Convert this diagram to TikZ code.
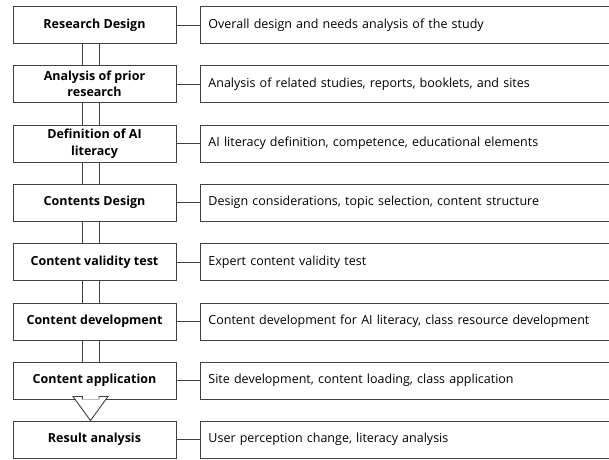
\documentclass[tikz,border=0pt]{standalone}
\usepackage{fontspec}
\setmainfont{Open Sans}
\begin{document}
\begin{tikzpicture}[x=1pt,y=-1pt,
  linecol/.style={draw=black!75, line width=0.9pt},
  stepbox/.style={linecol, minimum width=163pt, minimum height=37pt, inner sep=0pt,
     align=center, font=\fontsize{12.5}{16.5}\selectfont\bfseries},
  descbox/.style={linecol, anchor=west, minimum width=430pt, minimum height=37pt, inner sep=0pt,
     text width=430pt, align=left, font=\fontsize{12.5}{14.5}\selectfont},
  conn/.style={linecol}
]
\useasboundingbox (0,0) rectangle (609,459);
\clip (0,0) rectangle (609,459);
\foreach \i/\y/\lt/\rt in {
  1/25/{Research Design}/{Overall design and needs analysis of the study},
  2/84/{Analysis of prior\\research}/{Analysis of related studies, reports, booklets, and sites},
  3/143.5/{Definition of AI\\literacy}/{AI literacy definition, competence, educational elements},
  4/202.5/{Contents Design}/{Design considerations, topic selection, content structure},
  5/262/{Content validity test}/{Expert content validity test},
  6/321.5/{Content development}/{Content development for AI literacy, class resource development},
  7/380.5/{Content application}/{Site development, content loading, class application},
  8/439.5/{Result analysis}/{User perception change, literacy analysis}}{
  \node[stepbox] (L\i) at (94.5,\y) {\lt};
  \node[descbox] (R\i) at (200,\y) {\hspace*{8pt}\rt};
  \draw[conn] (L\i.east) -- (R\i.west);
}
\foreach \a/\b in {1/2,2/3,3/4,4/5,5/6,6/7}{
  \draw[conn] ([xshift=-12.2pt]L\a.south) -- ([xshift=-12.2pt]L\b.north);
  \draw[conn] ([xshift=4.5pt]L\a.south) -- ([xshift=4.5pt]L\b.north);
}
\draw[conn, fill=white, line join=miter]
  ([xshift=-12.2pt]L7.south) -- ([xshift=-12.2pt,yshift=3pt]L7.south)
  -- ([xshift=-21.5pt,yshift=3pt]L7.south)
  -- ([xshift=-4pt]L8.north)
  -- ([xshift=13.5pt,yshift=3pt]L7.south)
  -- ([xshift=4.5pt,yshift=3pt]L7.south)
  -- ([xshift=4.5pt]L7.south);
\end{tikzpicture}
\end{document}
